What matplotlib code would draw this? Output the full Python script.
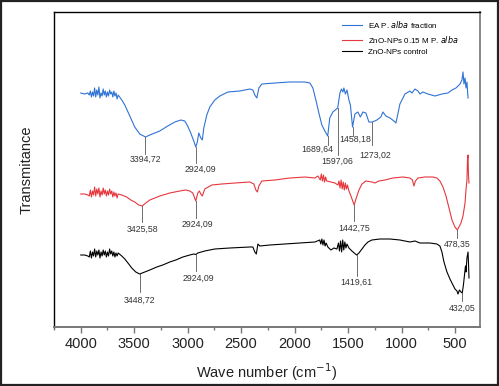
import numpy as np
import matplotlib
matplotlib.use("Agg")
import matplotlib.pyplot as plt
from matplotlib.patches import Rectangle
from matplotlib.ticker import MultipleLocator

plt.rcParams["font.family"] = ["Liberation Sans", "DejaVu Sans"]

# --- data (wavenumber cm-1, transmittance a.u.) ---
NOISE_WN = [3920, 3910, 3900, 3890, 3880, 3870, 3860, 3850, 3840, 3830,
            3820, 3810, 3800, 3790, 3780, 3770, 3760, 3750, 3740, 3730,
            3720, 3710, 3700, 3690, 3680, 3670, 3660, 3650]

ea_wn = [4000, 3963, 3934] + NOISE_WN + [
    3616, 3588, 3541, 3495, 3448, 3394, 3354, 3261, 3186, 3120,
    3064, 3027, 3000, 2971, 2943, 2924, 2910, 2896, 2877, 2863,
    2849, 2821, 2793, 2746, 2699, 2624, 2512, 2418, 2390, 2372,
    2353, 2334, 2306, 2184, 2044, 1904, 1857, 1829, 1801, 1773,
    1745, 1717, 1690, 1671, 1642, 1597, 1576, 1562, 1548, 1539,
    1525, 1510, 1492, 1478, 1458, 1436, 1408, 1385, 1361, 1333,
    1305, 1273, 1230, 1193, 1174, 1146, 1108, 1071, 1052, 1015,
    968, 921, 902, 874, 846, 828, 800, 753, 687, 622,
    566, 528, 491, 453, 435, 425, 416, 406, 397, 388, 378]
ea_t = [307, 306, 307,
        305, 309, 303, 308, 304, 312, 303, 310, 305, 313, 302, 307, 304, 311,
        305, 309, 303, 308, 304, 310, 306, 308, 303, 309, 304, 307, 301, 305,
        300, 295, 284, 273, 266, 263, 265, 269, 274, 278,
        280, 279, 274, 267, 259, 253, 258, 267, 262, 260,
        272, 285, 293, 300, 304, 308, 309, 311, 310, 305,
        302, 312, 316, 317, 318, 318, 317, 312, 300, 287,
        275, 269, 264, 282, 288, 292, 307, 311, 308, 312,
        306, 310, 300, 295, 273, 286, 288, 283, 288, 287,
        278, 278, 280, 283, 288, 284, 282, 279, 277, 296,
        306, 309, 307, 311, 309, 306, 308, 306, 304, 306,
        307, 310, 312, 316, 320, 328, 316, 322, 312, 318, 302]

zn_wn = [4000, 3963, 3934] + NOISE_WN + [
    3616, 3570, 3532, 3495, 3457, 3425, 3392, 3354, 3261, 3167,
    3074, 3017, 2980, 2952, 2924, 2905, 2891, 2877, 2863, 2840,
    2774, 2681, 2559, 2418, 2381, 2362, 2348, 2334, 2306, 2184,
    2044, 1904, 1810, 1782, 1760, 1750, 1740, 1730, 1720, 1710,
    1700, 1660, 1623, 1595, 1585, 1575, 1565, 1555, 1545, 1535,
    1525, 1515, 1505, 1495, 1473, 1443, 1426, 1398, 1370, 1333,
    1277, 1249, 1211, 1155, 1080, 987, 921, 898, 884, 870,
    846, 781, 706, 669, 641, 612, 584, 556, 528, 500,
    478, 463, 444, 425, 406, 397, 388, 383, 378, 374, 369]
zn_t = [206, 206, 205,
        204, 210, 203, 209, 205, 213, 204, 211, 206, 212, 203, 209, 205, 212,
        206, 210, 204, 209, 205, 211, 206, 209, 203, 208, 204, 207, 202, 206,
        205, 203, 200, 198, 195, 194, 197, 200, 204, 207,
        209, 210, 209, 207, 199, 207, 209, 206, 204, 211,
        215, 216, 217, 218, 216, 210, 208, 214, 219, 220,
        222, 223, 222, 224, 220, 226, 219, 225, 218, 223,
        219, 218, 217, 215, 219, 212, 220, 211, 218, 210,
        217, 211, 215, 210, 204, 195, 201, 210, 216, 219,
        218, 217, 219, 220, 222, 223, 222, 220, 214, 219,
        222, 223, 223, 222, 219, 213, 204, 192, 180, 173,
        170, 173, 177, 184, 197, 210, 220, 240, 245, 225, 217]

ctl_wn = [4000, 3963, 3934] + NOISE_WN + [
    3616, 3588, 3551, 3523, 3485, 3449, 3401, 3354, 3289, 3233,
    3167, 3111, 3045, 2980, 2943, 2924, 2905, 2840, 2746, 2606,
    2418, 2390, 2372, 2358, 2343, 2325, 2231, 2091, 1951, 1810,
    1765, 1755, 1745, 1735, 1725, 1715, 1705, 1689, 1660, 1632,
    1604, 1590, 1580, 1570, 1560, 1550, 1540, 1530, 1520, 1510,
    1492, 1464, 1420, 1398, 1370, 1342, 1314, 1277, 1202, 1108,
    1015, 921, 874, 828, 734, 669, 641, 622, 603, 575,
    547, 519, 500, 481, 472, 458, 444, 432, 421, 411,
    402, 397, 388, 378, 374, 369]
ctl_t = [145, 145, 144,
         143, 149, 142, 148, 144, 151, 143, 149, 145, 150, 142, 148, 144, 150,
         145, 149, 143, 148, 144, 151, 146, 149, 144, 148, 143, 147, 144, 147,
         144, 141, 136, 132, 128, 126, 128, 130, 133, 135,
         138, 140, 143, 145, 146, 145.5, 147, 149, 151, 152,
         153, 153, 148, 146, 156, 154, 155, 156, 157, 158,
         160, 156, 161, 155, 160, 154, 157, 153, 150, 152,
         151, 157, 149, 159, 148, 160, 150, 158, 152, 156,
         152, 149, 145, 147, 151, 155, 158, 160, 161, 161,
         160, 158, 159, 157, 157, 156, 154, 148, 138, 128,
         121, 115, 111, 109, 106, 110, 108, 107, 115, 125,
         134, 128, 142, 148, 138, 122]

ea_peaks = [3394.72, 2924.09, 1689.64, 1597.06, 1458.18, 1273.02]
zn_peaks = [3425.58, 2924.09, 1442.75, 478.35]
ctl_peaks = [3448.72, 2924.09, 1419.61, 432.05]

labels = ["EA P. $\\it{alba}$ fraction",
          "ZnO-NPs 0.15 M P. $\\it{alba}$",
          "ZnO-NPs control"]
colors = ["#2f73d4", "#e5373d", "#000000"]

# label placement (dx px, text drop px, line length px), per peak
ea_layout = [(0, 22, 17), (5, 22, 16), (-10, 14, 9), (0, 53, 47), (3, 13, 9), (3, 33, 23)]
zn_layout = [(0, 23, 16), (2, 23, 17), (0, 23, 16), (0, 14, 8)]
ctl_layout = [(0, 26, 18), (3, 24, 17), (0, 27, 21), (0, 15, 8)]

fig = plt.figure(figsize=(4.99, 3.86), dpi=100)
ax = fig.add_axes([54 / 499, 59 / 386, 426 / 499, 315 / 386])

series = [(ea_wn, ea_t, ea_peaks, ea_layout),
          (zn_wn, zn_t, zn_peaks, zn_layout),
          (ctl_wn, ctl_t, ctl_peaks, ctl_layout)]

for (wn, t, peaks, layout), lab, col in zip(series, labels, colors):
    ax.plot(wn, t, color=col, lw=0.8, label=lab)
    wn_a = np.array(wn)[::-1]
    t_a = np.array(t)[::-1]
    for p, (dx, drop, ln) in zip(peaks, layout):
        y0 = np.interp(p, wn_a, t_a)
        ax.plot([p, p], [y0, y0 - ln], color="#555555", lw=0.6)
        ax.annotate(f"{p:.2f}".replace(".", ","), xy=(p, y0),
                    xytext=(dx, -drop), textcoords="offset pixels",
                    ha="center", va="center", fontsize=6.3, color="#333333")

ax.set_xlim(4250, 266)
ax.set_ylim(73, 388)
ax.xaxis.set_major_locator(MultipleLocator(500))
ax.xaxis.set_minor_locator(MultipleLocator(250))
ax.set_yticks([])
ax.tick_params(axis="x", which="major", length=4, width=1, color="#777777",
               labelsize=10.5, pad=3, labelcolor="#222222")
ax.tick_params(axis="x", which="minor", length=2.5, width=1, color="#777777")

ax.spines["left"].set_color("black")
ax.spines["top"].set_color("black")
ax.spines["left"].set_linewidth(1.0)
ax.spines["top"].set_linewidth(1.0)
ax.spines["right"].set_color("#888888")
ax.spines["bottom"].set_color("#777777")
ax.spines["right"].set_linewidth(1.4)
ax.spines["bottom"].set_linewidth(1.4)

ax.set_xlabel("Wave number (cm$^{-1}$)", fontsize=10.5, color="#222222")
ax.xaxis.set_label_coords(0.5, -0.108)
ax.set_ylabel("Transmitance", fontsize=10.5, color="#222222")
ax.yaxis.set_label_coords(-0.047, 0.5)

ax.legend(loc="upper left", bbox_to_anchor=(342 / 499, 1 - 19 / 386),
          bbox_transform=fig.transFigure, frameon=False, fontsize=5.8,
          borderpad=0, borderaxespad=0, handlelength=2.5, handletextpad=0.75,
          labelspacing=0.45)

fig.patches.append(Rectangle((0.002, 0.002), 0.996, 0.996, transform=fig.transFigure,
                             fill=False, edgecolor="#222222", lw=1.6))

fig.savefig("out.png", dpi=100)
